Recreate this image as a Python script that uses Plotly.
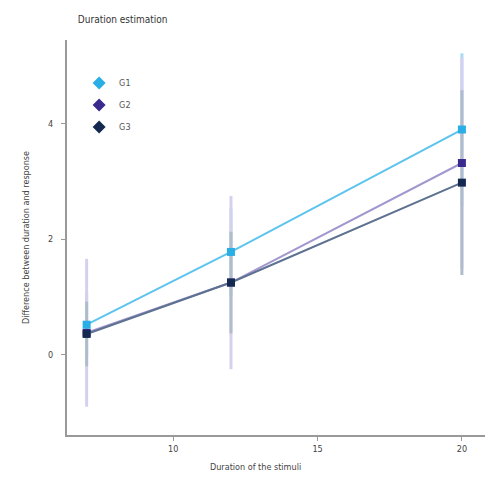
import plotly.graph_objects as go

durations = [7, 12, 20]
groups = ["G1", "G2", "G3"]
g1_mean = [0.52, 1.78, 3.90]
g2_mean = [0.38, 1.25, 3.32]
g3_mean = [0.36, 1.25, 2.98]
g1_err = [0.55, 0.75, 1.32]
g2_err = [1.28, 1.50, 1.83]
g3_err = [0.56, 0.88, 1.60]

marker_colors = ["#29aee6", "#3a2a8e", "#14294f"]
line_colors = ["#5cc4ee", "#a397cf", "#5d7190"]
err_colors = ["#a6dbf4", "#d6d0ee", "#b0bccb"]

means = [g1_mean, g2_mean, g3_mean]
errs = [g1_err, g2_err, g3_err]

fig = go.Figure()
# error bars first: G1 under, G3 on top
for i in [0, 1, 2]:
    fig.add_trace(go.Scatter(
        x=durations, y=means[i], mode="markers", showlegend=False, hoverinfo="skip",
        marker=dict(color=marker_colors[i], size=1, opacity=0),
        error_y=dict(type="data", array=errs[i], color=err_colors[i], thickness=3, width=0),
    ))
# lines + markers
for i in [1, 2, 0]:
    fig.add_trace(go.Scatter(
        x=durations, y=means[i], mode="lines+markers", showlegend=False,
        line=dict(color=line_colors[i], width=2),
        marker=dict(color=marker_colors[i], size=8, symbol="square"),
    ))
# legend entries (markers only)
for i in [0, 1, 2]:
    fig.add_trace(go.Scatter(
        x=[None], y=[None], mode="markers", name=groups[i], legendgroup=groups[i],
        marker=dict(color=marker_colors[i], size=10, symbol="diamond"),
    ))

# page body has an 8px margin: figure is 492 wide/high and sits at (8, 8)
fig.update_layout(
    width=492, height=492,
    paper_bgcolor="white", plot_bgcolor="white",
    margin=dict(l=59, r=15, t=32, b=65, autoexpand=False),
    font=dict(family="Liberation Sans Narrow, Arial Narrow, DejaVu Sans Condensed", size=9, color="#444"),
    title=dict(text="Duration estimation", x=0.142, xanchor="left", y=0.976, yanchor="middle",
               font=dict(size=10, color="#333")),
    showlegend=True,
    legend=dict(x=0.029, y=0.928, xanchor="left", yanchor="top", bgcolor="rgba(0,0,0,0)",
                font=dict(size=9, color="#555"), itemwidth=30, tracegroupgap=3),
    xaxis=dict(range=[6.32, 20.8], tickvals=[10, 15, 20], ticktext=["10", "15", "20"],
               showgrid=False, zeroline=False, showline=True, linecolor="#999", linewidth=2,
               ticks="outside", tickcolor="#999", ticklen=4, automargin=False),
    yaxis=dict(range=[-1.39, 5.45], tickvals=[0, 2, 4], ticktext=["0", "2", "4"],
               showgrid=False, zeroline=False, showline=True, linecolor="#999", linewidth=2,
               ticks="outside", tickcolor="#999", ticklen=4, automargin=False, ticklabelstandoff=6,
               title=dict(text="Difference between duration and response", font=dict(size=9, color="#444"), standoff=17)),
    annotations=[dict(text="Duration of the stimuli", xref="paper", yref="paper", x=0.452, y=-0.081,
                      xanchor="center", yanchor="middle", showarrow=False, font=dict(size=9, color="#444"))],
)

fig.write_html("out.html")
